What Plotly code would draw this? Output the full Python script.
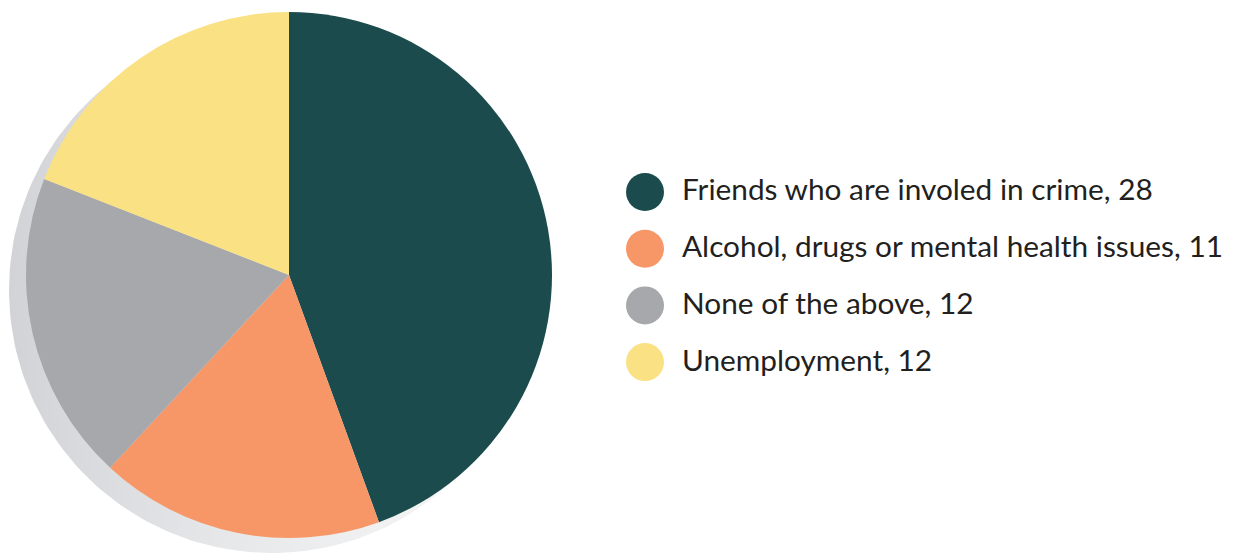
import numpy as np
import plotly.graph_objects as go

labels = ["Friends who are involed in crime", "Alcohol, drugs or mental health issues",
          "None of the above", "Unemployment"]
values = [28, 11, 12, 12]
colors = ["#1b4b4c", "#f79767", "#a7a8ab", "#fae183"]

W, H = 1233, 553
OFF = 8  # page body margin offset
cx, cy, R = 289, 275, 263

fig = go.Figure()

# drop shadow (decorative) behind pie
t = np.linspace(0, 2 * np.pi, 241)
sx, sy = cx - 17, cy + 15
fig.add_trace(go.Scatter(
    x=sx + R * np.cos(t), y=sy + R * np.sin(t), mode="lines", fill="toself",
    line=dict(width=0, color="rgba(0,0,0,0)"),
    fillgradient=dict(type="horizontal",
                      colorscale=[[0, "#d2d3d6"], [0.4, "#e6e7e9"], [1, "#fafafa"]]),
    hoverinfo="skip", showlegend=False))

pcx, pcy = cx - OFF, cy - OFF
fig.add_trace(go.Pie(
    labels=labels, values=values, sort=False, direction="clockwise", rotation=0,
    marker=dict(colors=colors, line=dict(width=0)), textinfo="none",
    showlegend=False, hoverinfo="label+value",
    domain=dict(x=[(pcx - R) / W, (pcx + R) / W], y=[(H - pcy - R) / H, (H - pcy + R) / H])))

# custom legend
lx, ly0, dy = 645, 192, 56.7
ys = [ly0 + i * dy for i in range(len(labels))]
fig.add_trace(go.Scatter(
    x=[lx] * len(labels), y=ys, mode="markers",
    marker=dict(size=38, color=colors, line=dict(width=0)),
    hoverinfo="skip", showlegend=False))
fig.add_trace(go.Scatter(
    x=[lx + 37] * len(labels), y=[y + 1 for y in ys], mode="text",
    text=[f"{l}, {v}" for l, v in zip(labels, values)],
    textposition="middle right",
    textfont=dict(family="Lato", size=29.8, color="#231f20"),
    hoverinfo="skip", showlegend=False))

fig.update_layout(
    width=W, height=H, margin=dict(l=0, r=0, t=0, b=0),
    paper_bgcolor="white", plot_bgcolor="white",
    xaxis=dict(range=[OFF, W + OFF], visible=False, fixedrange=True),
    yaxis=dict(range=[H + OFF, OFF], visible=False, fixedrange=True),
)
fig.write_html("out.html")
